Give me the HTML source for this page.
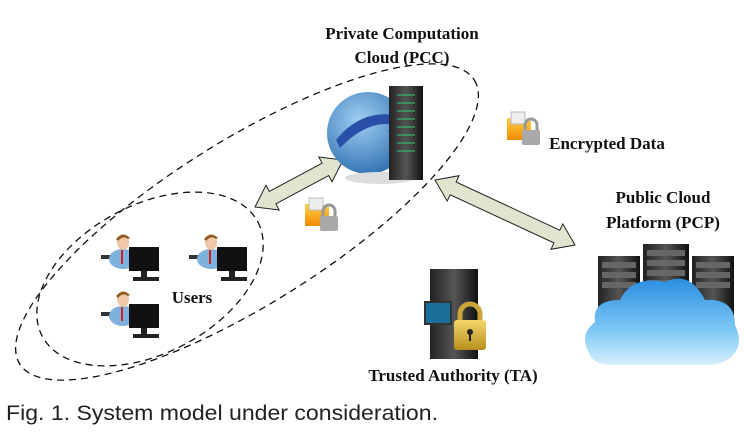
<!DOCTYPE html>
<html><head><meta charset="utf-8"><style>
html,body{margin:0;padding:0;background:#fff;}
svg{display:block}
.t{font-family:"Liberation Serif",serif;font-weight:bold;font-size:17px;fill:#111}
</style></head><body>
<svg width="744" height="441" viewBox="0 0 744 441" xmlns="http://www.w3.org/2000/svg">
<defs>
<radialGradient id="gl" cx="0.4" cy="0.35" r="0.7"><stop offset="0" stop-color="#9fd0f2"/><stop offset="1" stop-color="#2f6fb0"/></radialGradient>
<linearGradient id="cl" x1="0" y1="0" x2="0" y2="1"><stop offset="0" stop-color="#2a8ee0"/><stop offset="0.6" stop-color="#7fc8f5"/><stop offset="1" stop-color="#d7f0fc"/></linearGradient>
<linearGradient id="sv" x1="0" y1="0" x2="1" y2="0"><stop offset="0" stop-color="#222"/><stop offset="0.5" stop-color="#555"/><stop offset="1" stop-color="#111"/></linearGradient>
<linearGradient id="fo" x1="0" y1="0" x2="0" y2="1"><stop offset="0" stop-color="#ffd24a"/><stop offset="1" stop-color="#f08a00"/></linearGradient>
<linearGradient id="lk" x1="0" y1="0" x2="0" y2="1"><stop offset="0" stop-color="#f3d66a"/><stop offset="1" stop-color="#b88f1c"/></linearGradient>
<g id="user">
<rect x="0" y="22" width="12" height="4" fill="#333"/>
<ellipse cx="22" cy="26" rx="14" ry="10" fill="#7fb1de"/>
<rect x="20" y="17" width="2" height="14" fill="#c22"/>
<ellipse cx="22" cy="9" rx="6" ry="8" fill="#f0c8a8"/>
<path d="M15 6 Q22 -2 29 5 L27 6 Q22 2 17 8Z" fill="#8a5a1e"/>
<rect x="28" y="14" width="30" height="24" fill="#111"/>
<rect x="40" y="38" width="6" height="6" fill="#222"/>
<rect x="32" y="44" width="26" height="4" fill="#222"/>
</g>
<g id="fold">
<path d="M2 8 L12 8 L14 11 L26 11 L26 30 L2 30Z" fill="url(#fo)"/>
<rect x="6" y="2" width="14" height="12" fill="#eee" stroke="#bbb"/>
<path d="M20 20 v-5 a6 6 0 0 1 12 0 v5" fill="none" stroke="#999" stroke-width="3"/>
<rect x="17" y="20" width="18" height="15" rx="2" fill="#a9a9a9"/>
</g>
</defs>

<text class="t" x="402" y="39" text-anchor="middle">Private Computation</text>
<text class="t" x="402" y="63" text-anchor="middle">Cloud  (PCC)</text>
<text class="t" x="607" y="149" text-anchor="middle">Encrypted Data</text>
<text class="t" x="663" y="203" text-anchor="middle">Public Cloud</text>
<text class="t" x="663" y="228" text-anchor="middle">Platform (PCP)</text>
<text class="t" x="192" y="303" text-anchor="middle">Users</text>
<text class="t" x="453" y="381" text-anchor="middle">Trusted Authority (TA)</text>
<text x="6" y="420" font-family="Liberation Sans, sans-serif" font-size="21" fill="#222" textLength="432" lengthAdjust="spacingAndGlyphs">Fig. 1. System model under consideration.</text>

<g fill="none" stroke="#111" stroke-width="1.3" stroke-dasharray="7,5">
<ellipse cx="247" cy="222" rx="268" ry="82" transform="rotate(-32 247 222)"/>
<ellipse cx="150" cy="279" rx="122" ry="74" transform="rotate(-28 150 279)"/>
</g>

<!-- arrows -->
<g fill="#e0e5cf" stroke="#222" stroke-width="1">
<polygon points="255,207 266,185.2 269.3,191.4 322.1,163.2 318.8,157 343,160 332,181.8 328.7,175.6 275.9,203.8 279.2,210"/>
<polygon points="435,180 459,175.7 456.1,182 559.8,230.2 562.8,223.9 575,245 551,249.3 553.9,242.9 450.2,194.8 447.2,201.1"/>
</g>

<!-- PCC -->
<circle cx="368" cy="133" r="41" fill="url(#gl)"/>
<path d="M336 140 Q360 110 395 115 L392 107 L405 122 L388 132 L391 124 Q365 122 340 148Z" fill="#2a4fa8"/>
<ellipse cx="380" cy="178" rx="35" ry="6" fill="#ddd"/>
<rect x="389" y="86" width="34" height="94" fill="url(#sv)"/>
<g stroke="#3c7" stroke-width="1">
<line x1="397" y1="95" x2="415" y2="95"/><line x1="397" y1="103" x2="415" y2="103"/><line x1="397" y1="111" x2="415" y2="111"/><line x1="397" y1="119" x2="415" y2="119"/><line x1="397" y1="127" x2="415" y2="127"/><line x1="397" y1="135" x2="415" y2="135"/><line x1="397" y1="143" x2="415" y2="143"/><line x1="397" y1="151" x2="415" y2="151"/>
</g>

<use href="#fold" x="303" y="196"/>
<use href="#fold" x="505" y="110"/>

<use href="#user" x="101" y="233"/>
<use href="#user" x="189" y="233"/>
<use href="#user" x="101" y="290"/>

<!-- TA -->
<rect x="430" y="269" width="48" height="90" fill="url(#sv)"/>
<rect x="425" y="302" width="26" height="22" fill="#1a6f9a" stroke="#333" stroke-width="2"/>
<path d="M460 322 v-8 a10 10 0 0 1 20 0 v8" fill="none" stroke="#c9a53a" stroke-width="5"/>
<rect x="454" y="320" width="32" height="30" rx="3" fill="url(#lk)"/>
<circle cx="470" cy="332" r="3" fill="#222"/><rect x="469" y="333" width="2" height="8" fill="#222"/>

<!-- PCP -->
<rect x="598" y="256" width="42" height="90" fill="url(#sv)"/>
<rect x="643" y="244" width="46" height="90" fill="url(#sv)"/>
<rect x="692" y="256" width="42" height="90" fill="url(#sv)"/>
<g fill="#666">
<rect x="602" y="262" width="34" height="6"/><rect x="602" y="272" width="34" height="6"/><rect x="602" y="282" width="34" height="6"/>
<rect x="647" y="250" width="38" height="6"/><rect x="647" y="260" width="38" height="6"/><rect x="647" y="270" width="38" height="6"/><rect x="647" y="280" width="38" height="6"/>
<rect x="696" y="262" width="34" height="6"/><rect x="696" y="272" width="34" height="6"/><rect x="696" y="282" width="34" height="6"/>
</g>
<path d="M590 355 Q578 335 595 322 Q592 300 620 300 Q632 275 665 282 Q690 270 705 300 Q735 298 735 325 Q745 345 730 358 Q720 366 700 365 L610 365 Q595 365 590 355Z" fill="url(#cl)"/>
</svg>
</body></html>
